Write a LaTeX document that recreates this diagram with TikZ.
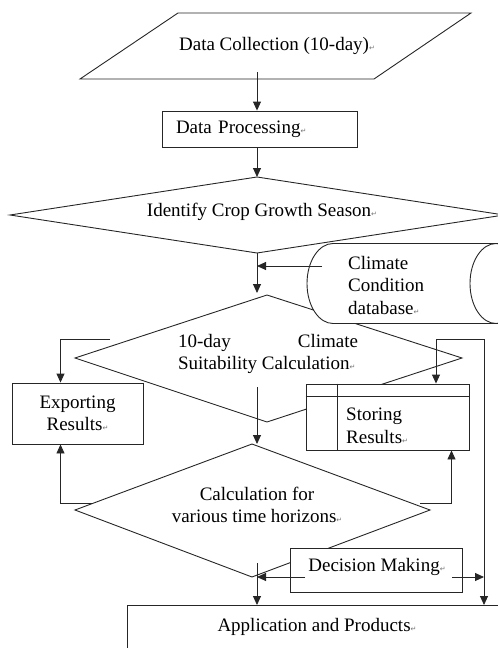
\documentclass[tikz,border=0pt]{standalone}
\usepackage{fontspec}
\setmainfont{Liberation Serif}
\newfontfamily\symfont{DejaVu Sans}
\usetikzlibrary{arrows.meta}
\newcommand{\pmk}{{\symfont\fontsize{7}{7}\selectfont\textcolor{black!55}{↵}}}

\begin{document}
\begin{tikzpicture}[x=1pt,y=1pt]
                \tikzstyle{every node}+=[inner sep=0pt, font=\fontsize{19}{22.5}\selectfont]
                \tikzstyle{ln}=[draw=black!85, line width=0.9pt]
                \tikzstyle{arr}=[ln, -{Triangle[length=9pt,width=8pt]}]
                \tikzstyle{box}=[ln, fill=white, rectangle]
                \useasboundingbox (0,0) rectangle (498,-648);
                % input
                \draw [ln] (178,-13) -- (471,-13) -- (374,-79) -- (80,-79) -- cycle;
                \node (coll) at (277,-46) {Data Collection (10-day)\pmk};
                \coordinate (c1) at (257,-72);
                % processing
                \node (proc) [box, draw, minimum width=195pt, minimum height=36pt,
                  inner xsep=14pt, text width=167pt, align=left] at (259.5,-129)
                  {Data Processing\pmk};
                % season
                \coordinate (d1n) at (257,-177);
                \coordinate (d1s) at (257,-253);
                \draw [ln] (d1n) -- (504,-215) -- (d1s) -- (10,-215) -- cycle;
                \node (seas) at (262,-212) {Identify Crop Growth Season\pmk};
                % 10-day calculation
                \coordinate (d2n) at (267,-295);
                \draw [ln] (d2n) -- (462,-358) -- (267,-422) -- (75,-358) -- cycle;
                \node (calc) [align=left] at (268,-354)
                  {\makebox[180pt][s]{10-day Climate}\\Suitability Calculation\pmk};
                % database
                \draw [ln, fill=white] (333,-243.5) -- (520,-243.5) -- (520,-323.5)
                  -- (333,-323.5) arc (270:90:26 and 40) -- cycle;
                \draw [ln] (496,-283.5) ellipse (26 and 40);
                \node (cdb) [anchor=west, align=left] at (348,-285)
                  {Climate\\Condition\\database\pmk};
                % time horizons
                \coordinate (d3n) at (252,-444);
                \draw [ln] (d3n) -- (430,-510) -- (252,-577) -- (75,-510) -- cycle;
                \node (hor) [align=center] at (257,-505)
                  {Calculation for\\various time horizons\pmk};
                % outputs
                \node (expo) [box, draw, minimum width=131pt, minimum height=61pt, align=center]
                  at (77.5,-413.5) {Exporting\\Results\pmk};
                \node (stor) [box, draw, minimum width=163pt, minimum height=66pt] at (387.5,-417) {};
                \draw [ln] ([yshift=-13pt]stor.north west) -- ([yshift=-13pt]stor.north east);
                \draw [ln] ([xshift=32pt]stor.north west) -- ([xshift=32pt]stor.south west);
                \node (stort) [anchor=west, align=left] at (346,-426) {Storing\\Results\pmk};
                \node (dec) [box, draw, minimum width=172pt, minimum height=44pt] at (376,-570) {};
                \node (dect) at (377,-567) {Decision Making\pmk};
                \node (appl) [box, draw, minimum width=393pt, minimum height=60pt,
                  anchor=north west] at (127,-605) {};
                \node (applt) at (317,-627) {Application and Products\pmk};
                % connectors
                \coordinate (cdbin) at (322,-266);
                \coordinate (a2) at (257,-387);
                \coordinate (d2l) at (110,-339);
                \coordinate (d2r) at (436,-339);
                \coordinate (rail) at (484,-339);
                \coordinate (d3l) at (93,-503);
                \coordinate (d3r) at (420,-503);
                \coordinate (a4) at (257,-563);
                \coordinate (decl) at (305,-577);
                \coordinate (decr) at (452,-577);
                \draw [arr] (c1) -- (c1 |- proc.north);
                \draw [arr] (proc.south -| c1) -- (d1n);
                \draw [arr] (d1s) -- ([yshift=2pt]d1s |- d2n);
                \draw [arr] (cdbin) -- (d1s |- cdbin);
                \draw [arr] (d2l) -| ([xshift=-17pt]expo.north);
                \draw [arr] (d2r) -- (d2r |- stor.north);
                \draw [arr] (d2r) -- (rail) -- (rail |- appl.north);
                \draw [arr] (a2) -- (a2 |- d3n);
                \draw [arr] (d3l) -| ([xshift=-17pt]expo.south);
                \draw [arr] (d3r) -| ([xshift=64pt]stor.south);
                \draw [arr] (decl) -- (a4 |- decl);
                \draw [arr] (decr) -- (rail |- decr);
                \draw [arr] (a4) -- (a4 |- appl.north);
              \end{tikzpicture}
\end{document}
